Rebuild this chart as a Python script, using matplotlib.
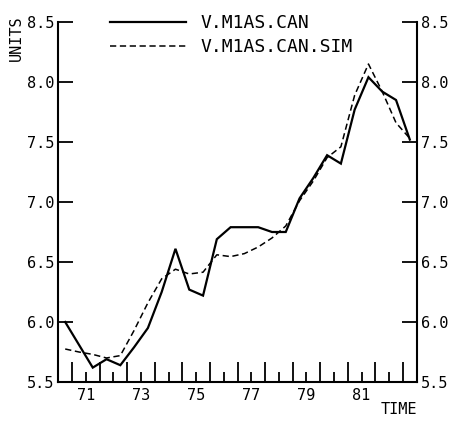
import matplotlib
matplotlib.use("Agg")
import matplotlib.pyplot as plt
from matplotlib.ticker import FixedLocator, FixedFormatter

# Half-year periods (midpoints, years since 1900)
periods = [70.25, 70.75, 71.25, 71.75, 72.25, 72.75, 73.25, 73.75, 74.25,
           74.75, 75.25, 75.75, 76.25, 76.75, 77.25, 77.75, 78.25, 78.75,
           79.25, 79.75, 80.25, 80.75, 81.25, 81.75, 82.25, 82.75]

# Actual series
m1as_can = [6.00, 5.81, 5.62, 5.69, 5.64, 5.79, 5.95, 6.25, 6.61,
            6.27, 6.22, 6.69, 6.79, 6.79, 6.79, 6.75, 6.75, 7.03,
            7.20, 7.39, 7.32, 7.77, 8.04, 7.92, 7.85, 7.52]

# Simulated series
m1as_can_sim = [5.775, 5.75, 5.73, 5.70, 5.72, 5.93, 6.16, 6.36, 6.44,
                6.40, 6.415, 6.56, 6.545, 6.57, 6.625, 6.70, 6.80, 7.01,
                7.175, 7.37, 7.46, 7.89, 8.15, 7.92, 7.66, 7.53]

series_names = ["V.M1AS.CAN", "V.M1AS.CAN.SIM"]

y_ticks = [5.5, 6.0, 6.5, 7.0, 7.5, 8.0, 8.5]
year_ticks = [71, 72, 73, 74, 75, 76, 77, 78, 79, 80, 81, 82]
year_labels = ["71", "", "73", "", "75", "", "77", "", "79", "", "81", ""]
boundary_ticks = [70.5, 71.5, 72.5, 73.5, 74.5, 75.5, 76.5, 77.5, 78.5,
                  79.5, 80.5, 81.5, 82.5]

plt.rcParams["font.family"] = ["DejaVu Sans Mono"]
plt.rcParams["lines.scale_dashes"] = False

DPI = 100
fig = plt.figure(figsize=(4.53, 4.21), dpi=DPI)
W, H = 453, 421
ax = fig.add_axes([58.3 / W, (H - 382) / H, (416.7 - 58.3) / W, (382 - 22) / H])

ax.plot(periods, m1as_can, color="black", lw=1.6, label=series_names[0],
        solid_joinstyle="miter")
ax.plot(periods, m1as_can_sim, color="black", lw=1.1, dashes=(4.5, 2.6),
        label=series_names[1])

ax.set_xlim(70, 83)
ax.set_ylim(5.5, 8.5)

for side in ("left", "right", "bottom"):
    ax.spines[side].set_linewidth(1.5)
ax.spines["top"].set_visible(False)

# y axis: ticks pointing inward on both sides, labels on both sides
ax.set_yticks(y_ticks)
ax.set_yticklabels([f"{v:.1f}" for v in y_ticks])
ax.tick_params(axis="y", which="major", direction="in", length=10.8,
               width=1.3, left=True, right=True, labelleft=True,
               labelright=True, labelsize=11, pad=3)

# x axis: short ticks at years, tall ticks between
ax.xaxis.set_major_locator(FixedLocator(year_ticks))
ax.xaxis.set_major_formatter(FixedFormatter(year_labels))
ax.xaxis.set_minor_locator(FixedLocator(boundary_ticks))
ax.tick_params(axis="x", which="major", direction="in", length=7.2,
               width=1.3, labelsize=11, pad=4)
ax.tick_params(axis="x", which="minor", direction="in", length=14.4,
               width=1.3)

fig.text(416.7 / W, 1 - 410 / H, "TIME", ha="right", va="center",
         fontsize=11)
fig.text(16 / W, 1 - 38 / H, "UNITS", ha="center", va="center",
         rotation=90, fontsize=11)

leg = ax.legend(loc="upper left", bbox_to_anchor=(110 / W, 1 - 14 / H),
                bbox_transform=fig.transFigure, frameon=False,
                fontsize=13, handlelength=4.2, handletextpad=0.8,
                labelspacing=0.36, borderpad=0, borderaxespad=0)

fig.savefig("out.png", dpi=DPI, facecolor="white")
